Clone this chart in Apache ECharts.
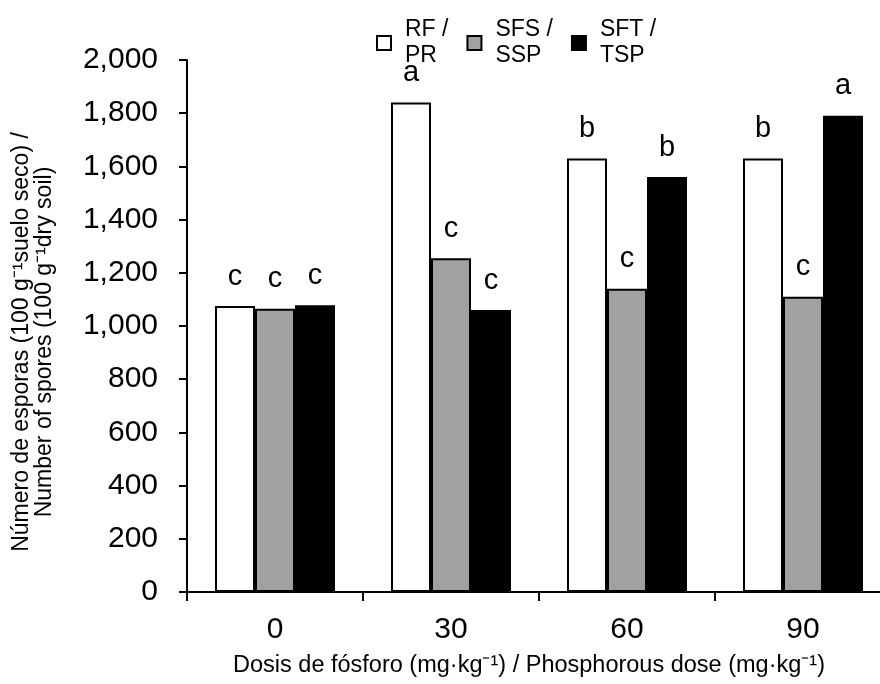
<!DOCTYPE html>
<html>
<head>
<meta charset="utf-8">
<script src="https://cdn.jsdelivr.net/npm/echarts@6/dist/echarts.min.js"></script>
<style>html,body{margin:0;padding:0;background:#fff;}#c{width:880px;height:684px;}</style>
</head>
<body>
<div id="c"></div>
<script>
var categories = ['0', '30', '60', '90'];
var seriesNames = ['RF /\nPR', 'SFS /\nSSP', 'SFT /\nTSP'];
var rfValues = [1075, 1840, 1630, 1630];
var sfsValues = [1065, 1255, 1140, 1110];
var sftValues = [1078, 1060, 1560, 1790];
var rfLetters = ['c', 'a', 'b', 'b'];
var sfsLetters = ['c', 'c', 'c', 'c'];
var sftLetters = ['c', 'c', 'b', 'a'];
var yTicks = [0, 200, 400, 600, 800, 1000, 1200, 1400, 1600, 1800, 2000];

var FONT = 'Liberation Sans';
var colors = ['#ffffff', '#9fa1a2', '#000000'];
var values = [rfValues, sfsValues, sftValues];
var letters = [rfLetters, sfsLetters, sftLetters];

var chart = echarts.init(document.getElementById('c'));
var series = values.map(function (vals, i) {
  return {
    name: seriesNames[i],
    type: 'bar',
    data: vals,
    barWidth: 40,
    barGap: '0%',
    itemStyle: { color: colors[i], borderColor: '#000', borderWidth: 2 },
    label: {
      show: true,
      position: 'top',
      distance: 15,
      fontFamily: FONT,
      fontSize: 29,
      color: '#000',
      formatter: function (p) { return letters[i][p.dataIndex]; }
    }
  };
});

chart.setOption({
  animation: false,
  textStyle: { fontFamily: FONT },
  legend: {
    top: 12,
    left: 371,
    itemWidth: 14,
    itemHeight: 14,
    itemGap: 18,
    icon: 'rect',
    itemStyle: { borderColor: '#000', borderWidth: 2 },
    textStyle: { fontFamily: FONT, fontSize: 23, color: '#000', lineHeight: 26, padding: [0, 0, 0, 9] },
    data: seriesNames
  },
  grid: { left: 187, width: 704, top: 60, bottom: 92, containLabel: false, outerBoundsMode: 'none' },
  xAxis: {
    type: 'category',
    data: categories,
    name: 'Dosis de fósforo (mg·kg⁻¹) / Phosphorous dose (mg·kg⁻¹)',
    nameLocation: 'middle',
    nameGap: 62,
    nameTextStyle: { fontFamily: FONT, fontSize: 23.5, color: '#000', padding: [0, 20, 0, 0] },
    axisLine: { lineStyle: { color: '#000', width: 2 } },
    axisTick: { show: true, length: 9, lineStyle: { color: '#000', width: 2 } },
    axisLabel: { fontFamily: FONT, fontSize: 30, color: '#000', margin: 23 },
    splitLine: { show: false }
  },
  yAxis: {
    type: 'value',
    min: yTicks[0],
    max: yTicks[yTicks.length - 1],
    interval: yTicks[1] - yTicks[0],
    name: 'Número de esporas (100 g⁻¹suelo seco) /\nNumber of spores (100 g⁻¹dry soil)',
    nameLocation: 'middle',
    nameGap: 131,
    nameTextStyle: { fontFamily: FONT, fontSize: 23, color: '#000', lineHeight: 23, padding: [0, 32, 0, 0] },
    axisLine: { show: true, lineStyle: { color: '#000', width: 2 } },
    axisTick: { show: true, length: 8, lineStyle: { color: '#000', width: 2 } },
    axisLabel: {
      fontFamily: FONT, fontSize: 30, color: '#000', margin: 29,
      formatter: function (v) { return v.toLocaleString('en-US'); }
    },
    splitLine: { show: false }
  },
  series: series
});
</script>
</body>
</html>
